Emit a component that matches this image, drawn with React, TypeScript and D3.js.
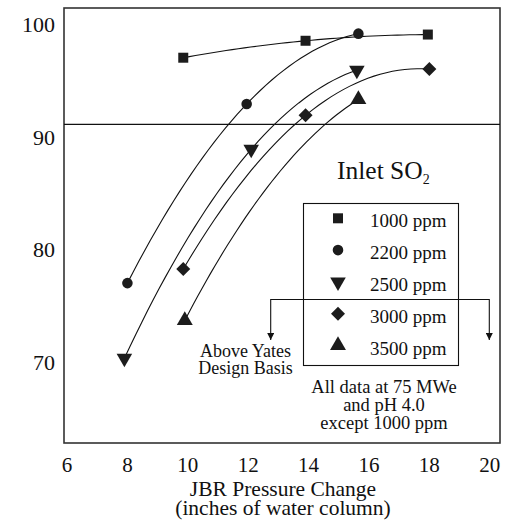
import React, { useRef, useEffect } from "react";
import * as d3 from "d3";

// Inlet SO2 levels
const seriesNames = ["1000 ppm", "2200 ppm", "2500 ppm", "3000 ppm", "3500 ppm"];
const pressure1000 = [9.85, 13.9, 17.95];
const removal1000 = [97.0, 98.5, 99.05];
const pressure2200 = [8.0, 11.95, 15.65];
const removal2200 = [77.05, 92.9, 99.13];
const pressure2500 = [7.9, 12.1, 15.6];
const removal2500 = [70.4, 88.9, 95.9];
const pressure3000 = [9.85, 13.9, 18.0];
const removal3000 = [78.3, 91.9, 96.0];
const pressure3500 = [9.9, 15.65];
const removal3500 = [73.75, 93.3];

const xTicks = [6, 8, 10, 12, 14, 16, 18, 20];
const yTicks = [70, 80, 90, 100];
const designBasis = [91.1];

const W = 512;
const H = 527;
const FONT = "Liberation Serif";

const triangleDown = {
  draw(ctx: any, size: number) {
    const y = -Math.sqrt(size / (Math.sqrt(3) * 3));
    ctx.moveTo(0, -y * 2);
    ctx.lineTo(-Math.sqrt(3) * y, y);
    ctx.lineTo(Math.sqrt(3) * y, y);
    ctx.closePath();
  }
};

// quadratic through the points; two-point series borrow the mean curvature
function fitQuad(xs: number[], ys: number[], fallbackC: number) {
  let c: number;
  if (xs.length >= 3) {
    const s1 = (ys[1] - ys[0]) / (xs[1] - xs[0]);
    const s2 = (ys[2] - ys[1]) / (xs[2] - xs[1]);
    c = (s2 - s1) / (xs[2] - xs[0]);
  } else {
    c = fallbackC;
  }
  const b = (ys[1] - ys[0]) / (xs[1] - xs[0]) - c * (xs[0] + xs[1]);
  const a = ys[0] - b * xs[0] - c * xs[0] * xs[0];
  return (x: number) => a + b * x + c * x * x;
}

export default function App() {
  const ref = useRef<SVGSVGElement>(null);

  useEffect(() => {
    const svg = d3.select(ref.current);
    svg.selectAll("*").remove();

    const table = [
      { name: seriesNames[0], xs: pressure1000, ys: removal1000, sym: d3.symbolSquare, size: 100, rot: 0 },
      { name: seriesNames[1], xs: pressure2200, ys: removal2200, sym: d3.symbolCircle, size: 88, rot: 0 },
      { name: seriesNames[2], xs: pressure2500, ys: removal2500, sym: triangleDown, size: 105, rot: 0 },
      { name: seriesNames[3], xs: pressure3000, ys: removal3000, sym: d3.symbolSquare, size: 98, rot: 45 },
      { name: seriesNames[4], xs: pressure3500, ys: removal3500, sym: d3.symbolTriangle, size: 110, rot: 0 }
    ];

    const plot = { left: 64, right: 500, top: 8, bottom: 443 };
    const x = d3.scaleLinear().domain([5.9, 20.34]).range([plot.left, plot.right]);
    const y = d3.scaleLinear().domain([62.9, 101.4]).range([plot.bottom, plot.top]);

    // curvature shared by the fuller low-range series
    const curvs = table.slice(1).filter(s => s.xs.length >= 3).map(s => {
      const s1 = (s.ys[1] - s.ys[0]) / (s.xs[1] - s.xs[0]);
      const s2 = (s.ys[2] - s.ys[1]) / (s.xs[2] - s.xs[1]);
      return (s2 - s1) / (s.xs[2] - s.xs[0]);
    });
    const meanC = d3.mean(curvs) as number;

    svg
      .append("rect")
      .attr("x", plot.left)
      .attr("y", plot.top)
      .attr("width", plot.right - plot.left)
      .attr("height", plot.bottom - plot.top)
      .attr("fill", "#fff")
      .attr("stroke", "#333")
      .attr("stroke-width", 1.6);

    // design basis line
    svg
      .selectAll(".basis")
      .data(designBasis)
      .enter()
      .append("line")
      .attr("x1", plot.left)
      .attr("x2", plot.right)
      .attr("y1", d => y(d))
      .attr("y2", d => y(d))
      .attr("stroke", "#111")
      .attr("stroke-width", 1.2);

    const line = d3
      .line<number[]>()
      .x(d => x(d[0]))
      .y(d => y(d[1]));

    table.forEach(s => {
      const f = fitQuad(s.xs, s.ys, meanC);
      const lo = s.xs[0];
      const hi = s.xs[s.xs.length - 1];
      const pts = d3.range(0, 41).map(i => {
        const xv = lo + ((hi - lo) * i) / 40;
        return [xv, f(xv)];
      });
      svg
        .append("path")
        .attr("d", line(pts))
        .attr("fill", "none")
        .attr("stroke", "#111")
        .attr("stroke-width", 1.1);
    });

    table.forEach(s => {
      const sym = d3.symbol(s.sym as any, s.size);
      svg
        .append("g")
        .selectAll("path")
        .data(s.xs.map((xv, i) => [xv, s.ys[i]]))
        .enter()
        .append("path")
        .attr("d", sym() as string)
        .attr("fill", "#1c1c1c")
        .attr("transform", d => `translate(${x(d[0])},${y(d[1])}) rotate(${s.rot})`);
    });

    // axis tick labels
    svg
      .append("g")
      .selectAll("text")
      .data(xTicks)
      .enter()
      .append("text")
      .attr("x", d => x(d))
      .attr("y", 472)
      .attr("text-anchor", "middle")
      .style("font-family", FONT)
      .attr("font-size", 21)
      .attr("fill", "#111")
      .text(d => d);

    svg
      .append("g")
      .selectAll("text")
      .data(yTicks)
      .enter()
      .append("text")
      .attr("x", 55)
      .attr("y", d => y(d))
      .attr("dy", "0.35em")
      .attr("text-anchor", "end")
      .style("font-family", FONT)
      .attr("font-size", 22)
      .attr("fill", "#111")
      .text(d => d);

    // axis title
    const titleLines = ["JBR Pressure Change", "(inches of water column)"];
    svg
      .append("g")
      .selectAll("text")
      .data(titleLines)
      .enter()
      .append("text")
      .attr("x", 283)
      .attr("y", (d, i) => 496 + i * 19)
      .attr("text-anchor", "middle")
      .style("font-family", FONT)
      .attr("font-size", 21.5)
      .attr("fill", "#111")
      .text(d => d);

    // Inlet SO2 label
    const inlet = svg
      .append("text")
      .attr("x", 337)
      .attr("y", 179)
      .style("font-family", FONT)
      .attr("font-size", 25.5)
      .attr("fill", "#111");
    inlet.append("tspan").text("Inlet SO");
    inlet.append("tspan").attr("font-size", 14).attr("dy", 5).text("2");

    // legend
    svg
      .append("rect")
      .attr("x", 303.5)
      .attr("y", 203.5)
      .attr("width", 155)
      .attr("height", 162)
      .attr("fill", "#fff")
      .attr("stroke", "#111")
      .attr("stroke-width", 1.1);

    table.forEach((s, i) => {
      const base = 227.3 + i * 31.8;
      svg
        .append("path")
        .attr("d", d3.symbol(s.sym as any, s.size)() as string)
        .attr("fill", "#1c1c1c")
        .attr("transform", `translate(338,${base - 9}) rotate(${s.rot})`);
      svg
        .append("text")
        .attr("x", 370)
        .attr("y", base)
        .style("font-family", FONT)
        .attr("font-size", 19)
        .attr("fill", "#111")
        .text(s.name);
    });

    // bracket arrows
    const defs = svg.append("defs");
    defs
      .append("marker")
      .attr("id", "arrow")
      .attr("viewBox", "0 0 10 10")
      .attr("refX", 10)
      .attr("refY", 5)
      .attr("markerWidth", 8)
      .attr("markerHeight", 7)
      .attr("markerUnits", "userSpaceOnUse")
      .attr("orient", "auto-start-reverse")
      .append("path")
      .attr("d", "M0,0L10,5L0,10Z")
      .attr("fill", "#111");

    svg
      .append("path")
      .attr("d", "M270.7,340V299.5H489.3V340")
      .attr("fill", "none")
      .attr("stroke", "#111")
      .attr("stroke-width", 1.1)
      .attr("marker-start", "url(#arrow)")
      .attr("marker-end", "url(#arrow)");

    const note1 = svg
      .append("text")
      .attr("text-anchor", "middle")
      .style("font-family", FONT)
      .attr("font-size", 18)
      .attr("fill", "#111");
    note1.append("tspan").attr("x", 245.5).attr("y", 356.5).text("Above Yates");
    note1.append("tspan").attr("x", 245.5).attr("y", 373.5).text("Design Basis");

    const note2 = svg
      .append("text")
      .attr("text-anchor", "middle")
      .style("font-family", FONT)
      .attr("font-size", 18.5)
      .attr("fill", "#111");
    note2.append("tspan").attr("x", 384).attr("y", 393).text("All data at 75 MWe");
    note2.append("tspan").attr("x", 384).attr("y", 411).text("and pH 4.0");
    note2.append("tspan").attr("x", 384).attr("y", 429).text("except 1000 ppm");
  }, []);

  return (
    <svg
      ref={ref}
      width={W}
      height={H}
      style={{ position: "absolute", left: 0, top: 0, background: "#fff" }}
    />
  );
}
